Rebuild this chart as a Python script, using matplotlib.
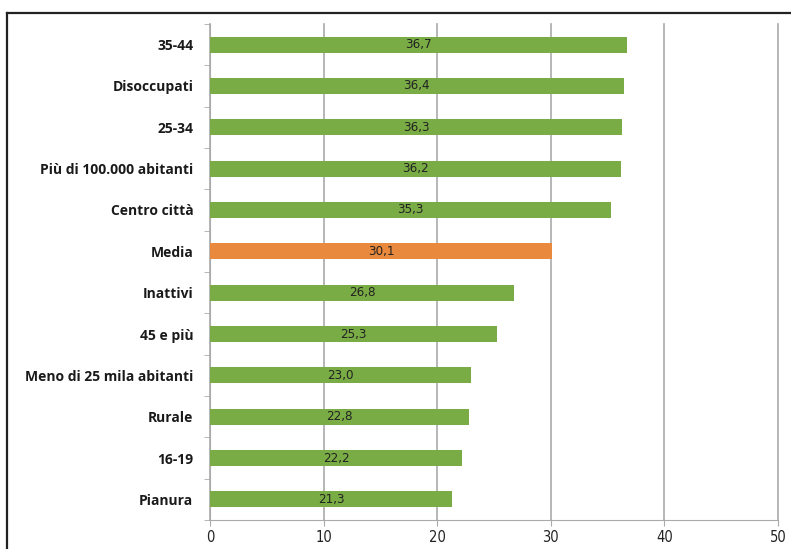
import matplotlib.pyplot as plt
from matplotlib.lines import Line2D

categories = ["35-44", "Disoccupati", "25-34", "Più di 100.000 abitanti", "Centro città",
              "Media", "Inattivi", "45 e più", "Meno di 25 mila abitanti", "Rurale",
              "16-19", "Pianura"]
values = [36.7, 36.4, 36.3, 36.2, 35.3, 30.1, 26.8, 25.3, 23.0, 22.8, 22.2, 21.3]
highlight = "Media"
x_ticks = [0, 10, 20, 30, 40, 50]

GREEN = "#7aac45"
ORANGE = "#e8893d"
GRID = "#aaaaaa"

fig = plt.figure(figsize=(7.91, 5.49), dpi=100)
ax = fig.add_axes([0.2655, 0.0528, 0.9836 - 0.2655, 0.9563 - 0.0528])

n = len(categories)
ypos = list(range(n))[::-1]
colors = [ORANGE if c == highlight else GREEN for c in categories]
ax.barh(ypos, values, height=0.39, color=colors, zorder=3)

for y, v in zip(ypos, values):
    ax.text(v / 2, y, f"{v:.1f}".replace(".", ","), ha="center", va="center",
            fontsize=9.5, color="#222", family="DejaVu Sans", fontstretch="condensed",
            zorder=4)

ax.set_xlim(0, 50)
ax.set_ylim(-0.5, n - 0.5)
ax.set_xticks(x_ticks)
ax.set_xticklabels([str(t) for t in x_ticks], family="DejaVu Sans", fontstretch="condensed",
                   fontsize=10.5, color="#222")
ax.set_yticks(ypos)
ax.set_yticklabels(categories, fontsize=10, fontweight="bold", color="#1a1a1a", family="Open Sans")
ax.set_yticks([y - 0.5 for y in range(n + 1)], minor=True)
ax.tick_params(axis="y", which="major", length=0, pad=12)
ax.tick_params(axis="y", which="minor", length=4, color=GRID, direction="out")
ax.tick_params(axis="x", length=4, color=GRID, pad=3)

ax.grid(axis="x", color=GRID, linewidth=1.2, zorder=0)
for gl in ax.get_xgridlines():
    gl.set_clip_on(False)
for s in ("top", "right"):
    ax.spines[s].set_visible(False)
ax.spines["left"].set_color(GRID)
ax.spines["bottom"].set_color(GRID)

# outer frame (cropped at right and bottom)
fig.add_artist(Line2D([7 / 791, 1.0], [1 - 13 / 549, 1 - 13 / 549], color="#222", linewidth=1.6,
                      transform=fig.transFigure))
fig.add_artist(Line2D([7 / 791, 7 / 791], [0.0, 1 - 13 / 549], color="#222", linewidth=1.6,
                      transform=fig.transFigure))

fig.savefig("out.png", dpi=100, facecolor="white")
